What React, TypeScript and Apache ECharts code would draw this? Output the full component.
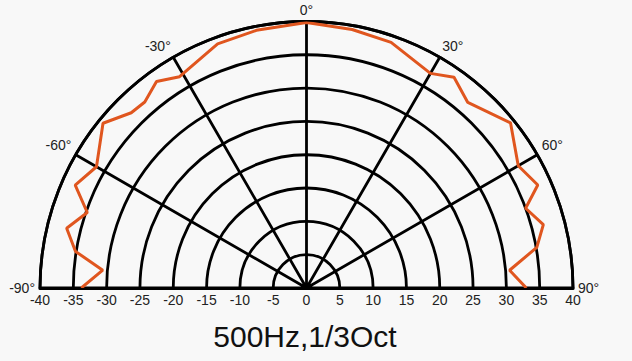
import React, { useEffect, useRef } from "react";
import * as echarts from "echarts";

// Polar response, angle in degrees (0 = on axis), level in dB-like units
const responseAngles = [-90, -85, -81, -76, -71, -66, -60, -51, -45, -41, -36, -31, -20, -11, 0, 10, 19, 30, 35, 41, 51, 60, 66, 70, 75, 80, 85, 90];
const responseLevels = [33.8, 30.7, 35.1, 37.1, 34.8, 38.0, 36.4, 39.3, 37.2, 37.0, 38.3, 37.0, 39.0, 39.4, 39.85, 39.4, 39.0, 37.2, 38.6, 36.9, 39.4, 36.7, 38.0, 35.0, 36.8, 35.1, 30.6, 33.0];

const angleMin = -90;
const angleMax = 90;
const angleStep = 30;
const radiusMax = 40;
const radiusStep = 5;
const titleText = "500Hz,1/3Oct";

export default function App() {
  const ref = useRef<HTMLDivElement>(null);
  useEffect(() => {
    if (!ref.current) return;
    const chart = echarts.init(ref.current, null, { renderer: "svg" });
    const font = "Liberation Sans, Arial, sans-serif";
    const cx = 306.5;
    const cy = 288;
    const R = 266.5;
    chart.setOption({
      animation: false,
      backgroundColor: "#f8f8f8",
      polar: { center: [cx, cy], radius: R },
      angleAxis: {
        type: "value",
        min: angleMin,
        max: angleMax,
        interval: angleStep,
        startAngle: 180,
        endAngle: 0,
        clockwise: true,
        axisLine: { show: true, lineStyle: { color: "#000", width: 2.8 } },
        axisTick: { show: false },
        axisLabel: {
          show: true,
          margin: 5,
          color: "#222",
          fontSize: 14,
          fontFamily: font,
          verticalAlign: "bottom",
          formatter: (v: number) => `${v}°`,
        },
        splitLine: { show: true, lineStyle: { color: "#000", width: 2.8 } },
      },
      radiusAxis: {
        type: "value",
        min: 0,
        max: radiusMax,
        interval: radiusStep,
        axisLine: { show: false },
        axisTick: { show: false },
        axisLabel: { show: false },
        splitLine: { show: true, lineStyle: { color: "#000", width: 2.8 } },
      },
      grid: { left: cx - R, width: 2 * R, top: 0, height: cy },
      xAxis: {
        type: "value",
        min: -radiusMax,
        max: radiusMax,
        interval: radiusStep,
        axisLine: { show: true, onZero: false, lineStyle: { color: "#000", width: 3.2 } },
        axisTick: { show: false },
        splitLine: { show: false },
        axisLabel: { color: "#222", fontSize: 14, fontFamily: font, margin: 5 },
      },
      yAxis: { type: "value", show: false, min: 0, max: 1 },
      series: [
        {
          type: "line",
          coordinateSystem: "polar",
          data: responseAngles.map((a, i) => [responseLevels[i], a]),
          symbol: "none",
          lineStyle: { color: "#e0561f", width: 3 },
          z: 5,
        },
      ],
      graphic: [
        {
          type: "text",
          x: 305,
          y: 336,
          style: {
            text: titleText,
            fontSize: 30,
            fontFamily: font,
            fill: "#111",
            textAlign: "center",
            textVerticalAlign: "middle",
          },
        },
      ],
    });
    return () => chart.dispose();
  }, []);
  return (
    <div
      ref={ref}
      style={{ position: "fixed", left: 0, top: 0, width: 632, height: 361 }}
    />
  );
}
